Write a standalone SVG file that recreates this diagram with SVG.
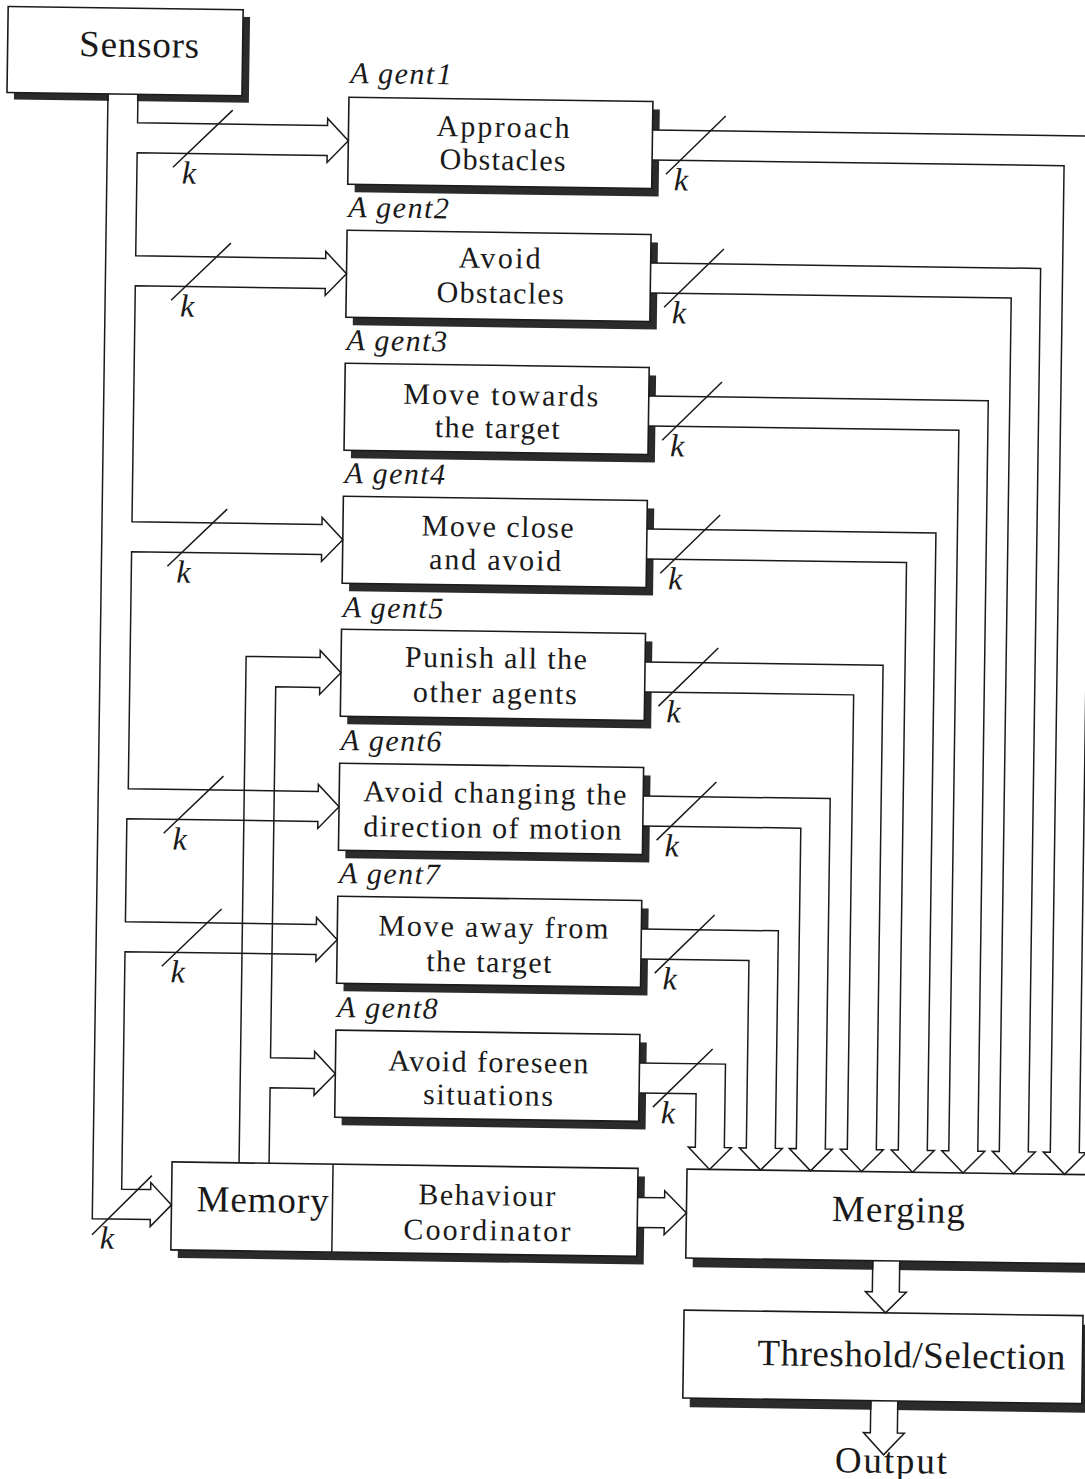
<svg xmlns="http://www.w3.org/2000/svg" width="1085" height="1479" viewBox="0 0 1085 1479">
<style>
.box{fill:#fff;stroke:#1a1a1a;stroke-width:1.6}
.sh{fill:#2b2b2b}
.gap{fill:#fff}
.ln{fill:none;stroke:#1a1a1a;stroke-width:1.5}
.t{font-family:'Liberation Serif','Times New Roman',serif;fill:#1a1a1a}
.lbl{font-style:italic;font-size:30px;letter-spacing:1.5px}
.k{font-style:italic;font-size:32px}
.big{font-size:37px;text-anchor:middle}
.body{font-size:30px;text-anchor:middle}
</style>
<rect x="0" y="0" width="1085" height="1479" fill="#fff"/>
<g transform="rotate(0.8 540 740)">
<g id="sensors">
<rect class="sh" x="5" y="21" width="235" height="86"/>
<rect class="box" x="-2" y="14" width="235" height="86"/>
<rect class="gap" x="100" y="100.8" width="28" height="8"/>
<text class="t big" x="129.5" y="62.6" textLength="120" lengthAdjust="spacing">Sensors</text>
</g>
<g id="agent1">
<rect class="sh" x="347" y="108" width="304" height="87"/>
<rect class="box" x="340" y="100" width="304" height="87"/>
<rect class="gap" x="644.8" y="128.5" width="8" height="30"/>
<text class="t lbl" x="341" y="85.6">A<tspan dx="8">gent</tspan><tspan dx="1">1</tspan></text>
<text class="t body" x="494.6" y="137.5" textLength="133" lengthAdjust="spacing">Approach</text>
<text class="t body" x="494.6" y="170.5" textLength="126" lengthAdjust="spacing">Obstacles</text>
</g>
<g id="agent2">
<rect class="sh" x="347" y="241" width="304" height="87"/>
<rect class="box" x="340" y="233" width="304" height="87"/>
<rect class="gap" x="644.8" y="261.5" width="8" height="30"/>
<text class="t lbl" x="341" y="219.7">A<tspan dx="8">gent</tspan><tspan dx="0">2</tspan></text>
<text class="t body" x="493" y="268.6" textLength="82" lengthAdjust="spacing">Avoid</text>
<text class="t body" x="494" y="303.6" textLength="127" lengthAdjust="spacing">Obstacles</text>
</g>
<g id="agent3">
<rect class="sh" x="347" y="374" width="304" height="87"/>
<rect class="box" x="340" y="366" width="304" height="87"/>
<rect class="gap" x="644.8" y="394.5" width="8" height="30"/>
<text class="t lbl" x="341" y="352.7">A<tspan dx="8">gent</tspan><tspan dx="0">3</tspan></text>
<text class="t body" x="496" y="405.6" textLength="195" lengthAdjust="spacing">Move towards</text>
<text class="t body" x="493" y="438.6" textLength="125" lengthAdjust="spacing">the target</text>
</g>
<g id="agent4">
<rect class="sh" x="347" y="507" width="304" height="87"/>
<rect class="box" x="340" y="499" width="304" height="87"/>
<rect class="gap" x="644.8" y="527.5" width="8" height="30"/>
<text class="t lbl" x="341" y="485.7">A<tspan dx="8">gent</tspan><tspan dx="0">4</tspan></text>
<text class="t body" x="494.7" y="537.3" textLength="152" lengthAdjust="spacing">Move close</text>
<text class="t body" x="492.7" y="570.6" textLength="132" lengthAdjust="spacing">and avoid</text>
</g>
<g id="agent5">
<rect class="sh" x="347" y="640" width="304" height="87"/>
<rect class="box" x="340" y="632" width="304" height="87"/>
<rect class="gap" x="644.8" y="660.5" width="8" height="30"/>
<text class="t lbl" x="341" y="619.8">A<tspan dx="8">gent</tspan><tspan dx="0">5</tspan></text>
<text class="t body" x="494.8" y="668.6" textLength="182" lengthAdjust="spacing">Punish all the</text>
<text class="t body" x="494.3" y="703.6" textLength="164" lengthAdjust="spacing">other agents</text>
</g>
<g id="agent6">
<rect class="sh" x="347" y="774" width="304" height="87"/>
<rect class="box" x="340" y="766" width="304" height="87"/>
<rect class="gap" x="644.8" y="794.5" width="8" height="30"/>
<text class="t lbl" x="341" y="752.8">A<tspan dx="8">gent</tspan><tspan dx="0">6</tspan></text>
<text class="t body" x="495.7" y="803.6" textLength="263" lengthAdjust="spacing">Avoid changing the</text>
<text class="t body" x="493.7" y="838.6" textLength="258" lengthAdjust="spacing">direction of motion</text>
</g>
<g id="agent7">
<rect class="sh" x="347" y="907" width="304" height="87"/>
<rect class="box" x="340" y="899" width="304" height="87"/>
<rect class="gap" x="644.8" y="927.5" width="8" height="30"/>
<text class="t lbl" x="341" y="885.8">A<tspan dx="8">gent</tspan><tspan dx="0">7</tspan></text>
<text class="t body" x="496.1" y="937.7" textLength="230" lengthAdjust="spacing">Move away from</text>
<text class="t body" x="492" y="972.7" textLength="125" lengthAdjust="spacing">the target</text>
</g>
<g id="agent8">
<rect class="sh" x="347" y="1041" width="304" height="87"/>
<rect class="box" x="340" y="1033" width="304" height="87"/>
<rect class="gap" x="644.8" y="1061.5" width="8" height="30"/>
<text class="t lbl" x="341" y="1019.8">A<tspan dx="8">gent</tspan><tspan dx="0">8</tspan></text>
<text class="t body" x="492.9" y="1072.7" textLength="200" lengthAdjust="spacing">Avoid foreseen</text>
<text class="t body" x="493" y="1105.7" textLength="130" lengthAdjust="spacing">situations</text>
</g>
<g id="memory-coordinator">
<rect class="sh" x="185" y="1175" width="466" height="88"/>
<rect class="box" x="178" y="1167" width="466" height="88"/>
<rect class="gap" x="644.8" y="1196" width="8" height="30"/>
<line class="ln" x1="339" y1="1167" x2="339" y2="1255"/>
<text class="t big" x="269" y="1216" textLength="132" lengthAdjust="spacing">Memory</text>
<text class="t body" x="493.2" y="1206" textLength="137" lengthAdjust="spacing">Behaviour</text>
<text class="t body" x="493.7" y="1241" textLength="167" lengthAdjust="spacing">Coordinator</text>
</g>
<g id="merging">
<rect class="sh" x="700" y="1176" width="420" height="89"/>
<rect class="box" x="693" y="1167" width="420" height="89"/>
<rect class="gap" x="880.8" y="1256.8" width="25.4" height="9"/>
<text class="t big" x="905" y="1217" textLength="133" lengthAdjust="spacing">Merging</text>
</g>
<g id="threshold">
<rect class="sh" x="699" y="1317" width="399" height="88"/>
<rect class="box" x="692" y="1308" width="399" height="88"/>
<rect class="gap" x="880.8" y="1396.8" width="25.4" height="9"/>
<text class="t big" x="920" y="1362" textLength="308" lengthAdjust="spacing">Threshold/Selection</text>
</g>
<g id="output">
<text class="t big" x="901" y="1468" textLength="112" lengthAdjust="spacing">Output</text>
</g>
<g id="connectors">
<path class="ln" d="M129,100 V128.5 H319 V121.5 L340,143.5 L319,165.5 V158.5 H129 V261.5 H319 V254.5 L340,276.5 L319,298.5 V291.5 H129 V527.5 H319 V520.5 L340,542.5 L319,564.5 V557.5 H129 V794.5 H319 V787.5 L340,809.5 L319,831.5 V824.5 H128 V927.5 H319 V920.5 L340,942.5 L319,964.5 V957.5 H128 V1195 H157 V1188 L178,1210 L157,1232 V1225 H99 V100"/>
<path class="ln" d="M245,1167 V660.5 H319 V653.5 L340,675.5 L319,697.5 V690.5 H275 V1061.5 H319 V1054.5 L340,1076.5 L319,1098.5 V1091.5 H275 V1167"/>
<path class="ln" d="M644,128.5 H1085 V1145 H1092 L1070.5,1167 L1049,1145 H1056 V158.5 H644"/>
<path class="ln" d="M644,261.5 H1034 V1145 H1041 L1019.5,1167 L998,1145 H1005 V291.5 H644"/>
<path class="ln" d="M644,394.5 H983.5 V1145 H990.5 L969,1167 L947.5,1145 H954.5 V424.5 H644"/>
<path class="ln" d="M644,527.5 H933 V1145 H940 L918.5,1167 L897,1145 H904 V557.5 H644"/>
<path class="ln" d="M644,660.5 H882 V1145 H889 L867.5,1167 L846,1145 H853 V690.5 H644"/>
<path class="ln" d="M644,794.5 H831 V1145 H838 L816.5,1167 L795,1145 H802 V824.5 H644"/>
<path class="ln" d="M644,927.5 H781 V1145 H788 L766.5,1167 L745,1145 H752 V957.5 H644"/>
<path class="ln" d="M644,1061.5 H730 V1145 H737 L715.5,1167 L694,1145 H701 V1091.5 H644"/>
<path class="ln" d="M644,1196 H671 V1189 L693,1211 L671,1233 V1226 H644"/>
<path class="ln" d="M880,1256 V1287 H873 L893.5,1308 L914,1287 H907 V1256"/>
<path class="ln" d="M880,1396 V1428 H873 L893.5,1450 L914,1428 H907 V1396"/>
<g class="ln">
<path d="M165,172.5 L224,114.5"/>
<path d="M165,305.5 L224,247.5"/>
<path d="M165,571.5 L224,513.5"/>
<path d="M165,838.5 L224,780.5"/>
<path d="M165,971.5 L224,913.5"/>
<path d="M99,1241 L158,1181"/>
<path d="M658,172.5 L717,113.5"/>
<path d="M658,305.5 L717,246.5"/>
<path d="M658,438.5 L717,379.5"/>
<path d="M658,571.5 L717,512.5"/>
<path d="M658,704.5 L717,645.5"/>
<path d="M658,838.5 L717,779.5"/>
<path d="M658,971.5 L717,912.5"/>
<path d="M658,1105.5 L717,1046.5"/>
</g>
<g class="t k">
<text x="174" y="188.5">k</text>
<text x="174" y="321.5">k</text>
<text x="174" y="587.5">k</text>
<text x="174" y="854.5">k</text>
<text x="174" y="987.5">k</text>
<text x="107" y="1254.5">k</text>
<text x="666" y="188.5">k</text>
<text x="666" y="321.5">k</text>
<text x="666" y="454.5">k</text>
<text x="666" y="587.5">k</text>
<text x="666" y="720.5">k</text>
<text x="666" y="854.5">k</text>
<text x="666" y="987.5">k</text>
<text x="666" y="1121.5">k</text>
</g>
</g>
</g>
</svg>
